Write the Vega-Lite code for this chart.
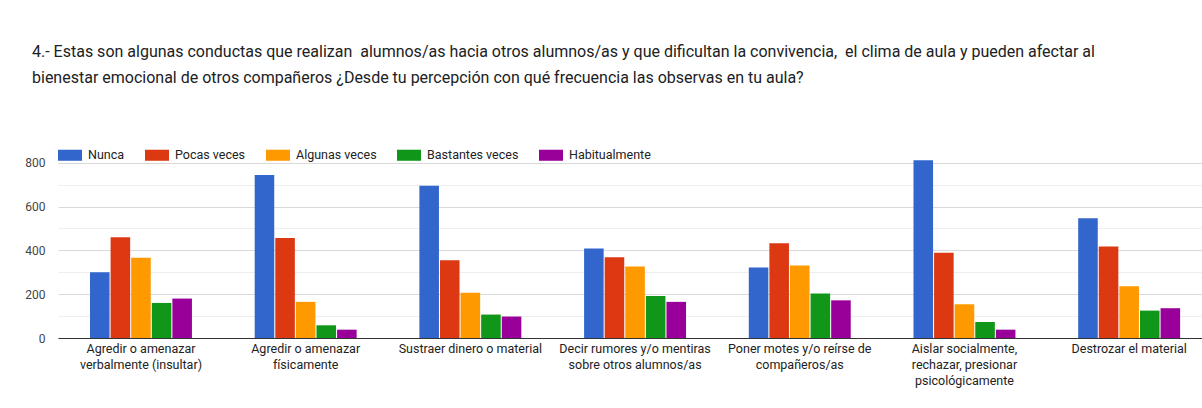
{
  "$schema": "https://vega.github.io/schema/vega-lite/v6.json",
  "autosize": {"type": "none"},
  "padding": {"left": 58, "top": 154, "right": 0, "bottom": 70},
  "width": 1144,
  "height": 184,
  "background": "white",
  "title": {
    "text": ["4.- Estas son algunas conductas que realizan \u00a0alumnos/as hacia otros alumnos/as y que dificultan la convivencia, \u00a0el clima de aula y pueden afectar al", "bienestar emocional de otros compañeros ¿Desde tu percepción con qué frecuencia las observas en tu aula?"],
    "anchor": "start",
    "frame": "group",
    "dx": -26,
    "offset": 57,
    "font": "Roboto",
    "fontSize": 16,
    "fontWeight": "normal",
    "color": "#202124",
    "lineHeight": 26
  },
  "data": {
    "values": [
      {"conducta": "Agredir o amenazar verbalmente (insultar)", "frecuencia": "Nunca", "n": 300},
      {"conducta": "Agredir o amenazar verbalmente (insultar)", "frecuencia": "Pocas veces", "n": 460},
      {"conducta": "Agredir o amenazar verbalmente (insultar)", "frecuencia": "Algunas veces", "n": 366},
      {"conducta": "Agredir o amenazar verbalmente (insultar)", "frecuencia": "Bastantes veces", "n": 160},
      {"conducta": "Agredir o amenazar verbalmente (insultar)", "frecuencia": "Habitualmente", "n": 180},
      {"conducta": "Agredir o amenazar físicamente", "frecuencia": "Nunca", "n": 744},
      {"conducta": "Agredir o amenazar físicamente", "frecuencia": "Pocas veces", "n": 457},
      {"conducta": "Agredir o amenazar físicamente", "frecuencia": "Algunas veces", "n": 165},
      {"conducta": "Agredir o amenazar físicamente", "frecuencia": "Bastantes veces", "n": 58},
      {"conducta": "Agredir o amenazar físicamente", "frecuencia": "Habitualmente", "n": 38},
      {"conducta": "Sustraer dinero o material", "frecuencia": "Nunca", "n": 695},
      {"conducta": "Sustraer dinero o material", "frecuencia": "Pocas veces", "n": 355},
      {"conducta": "Sustraer dinero o material", "frecuencia": "Algunas veces", "n": 207},
      {"conducta": "Sustraer dinero o material", "frecuencia": "Bastantes veces", "n": 107},
      {"conducta": "Sustraer dinero o material", "frecuencia": "Habitualmente", "n": 98},
      {"conducta": "Decir rumores y/o mentiras sobre otros alumnos/as", "frecuencia": "Nunca", "n": 409},
      {"conducta": "Decir rumores y/o mentiras sobre otros alumnos/as", "frecuencia": "Pocas veces", "n": 369},
      {"conducta": "Decir rumores y/o mentiras sobre otros alumnos/as", "frecuencia": "Algunas veces", "n": 326},
      {"conducta": "Decir rumores y/o mentiras sobre otros alumnos/as", "frecuencia": "Bastantes veces", "n": 192},
      {"conducta": "Decir rumores y/o mentiras sobre otros alumnos/as", "frecuencia": "Habitualmente", "n": 165},
      {"conducta": "Poner motes y/o reírse de compañeros/as", "frecuencia": "Nunca", "n": 322},
      {"conducta": "Poner motes y/o reírse de compañeros/as", "frecuencia": "Pocas veces", "n": 433},
      {"conducta": "Poner motes y/o reírse de compañeros/as", "frecuencia": "Algunas veces", "n": 331},
      {"conducta": "Poner motes y/o reírse de compañeros/as", "frecuencia": "Bastantes veces", "n": 203},
      {"conducta": "Poner motes y/o reírse de compañeros/as", "frecuencia": "Habitualmente", "n": 172},
      {"conducta": "Aislar socialmente, rechazar, presionar psicológicamente", "frecuencia": "Nunca", "n": 811},
      {"conducta": "Aislar socialmente, rechazar, presionar psicológicamente", "frecuencia": "Pocas veces", "n": 389},
      {"conducta": "Aislar socialmente, rechazar, presionar psicológicamente", "frecuencia": "Algunas veces", "n": 154},
      {"conducta": "Aislar socialmente, rechazar, presionar psicológicamente", "frecuencia": "Bastantes veces", "n": 73},
      {"conducta": "Aislar socialmente, rechazar, presionar psicológicamente", "frecuencia": "Habitualmente", "n": 38},
      {"conducta": "Destrozar el material", "frecuencia": "Nunca", "n": 547},
      {"conducta": "Destrozar el material", "frecuencia": "Pocas veces", "n": 418},
      {"conducta": "Destrozar el material", "frecuencia": "Algunas veces", "n": 236},
      {"conducta": "Destrozar el material", "frecuencia": "Bastantes veces", "n": 125},
      {"conducta": "Destrozar el material", "frecuencia": "Habitualmente", "n": 136}
    ]
  },
  "mark": {"type": "bar"},
  "encoding": {
    "x": {
      "field": "conducta",
      "type": "nominal",
      "sort": null,
      "scale": {"paddingInner": 0.381, "paddingOuter": 0.1635, "align": 0.594},
      "axis": {
        "title": null,
        "ticks": false,
        "domainColor": "#333333",
        "domainWidth": 1,
        "labelAngle": 0,
        "labelFont": "Roboto",
        "labelFontSize": 12.5,
        "labelColor": "#222222",
        "labelPadding": 4,
        "labelLineHeight": 16,
        "labelBaseline": "top",
        "labelLimit": 0,
        "labelExpr": "datum.label == 'Agredir o amenazar verbalmente (insultar)' ? ['Agredir o amenazar', 'verbalmente (insultar)'] : datum.label == 'Agredir o amenazar físicamente' ? ['Agredir o amenazar', 'físicamente'] : datum.label == 'Decir rumores y/o mentiras sobre otros alumnos/as' ? ['Decir rumores y/o mentiras', 'sobre otros alumnos/as'] : datum.label == 'Poner motes y/o reírse de compañeros/as' ? ['Poner motes y/o reírse de', 'compañeros/as'] : datum.label == 'Aislar socialmente, rechazar, presionar psicológicamente' ? ['Aislar socialmente,', 'rechazar, presionar', 'psicológicamente'] : datum.label"
      }
    },
    "xOffset": {
      "field": "frecuencia",
      "type": "nominal",
      "sort": ["Nunca", "Pocas veces", "Algunas veces", "Bastantes veces", "Habitualmente"],
      "scale": {"paddingInner": 0.05, "paddingOuter": 0}
    },
    "y": {
      "field": "n",
      "type": "quantitative",
      "scale": {"domain": [0, 840], "nice": false},
      "axis": {
        "title": null,
        "values": [0, 100, 200, 300, 400, 500, 600, 700, 800],
        "labelExpr": "datum.value % 200 === 0 ? datum.label : ''",
        "ticks": false,
        "domain": false,
        "gridColor": {"condition": {"test": "datum.value % 200 === 0", "value": "#d9d9d9"}, "value": "#eeeeee"},
        "gridWidth": 1,
        "labelFont": "Roboto",
        "labelFontSize": 12,
        "labelColor": "#444444",
        "labelPadding": 13
      }
    },
    "color": {
      "field": "frecuencia",
      "type": "nominal",
      "sort": ["Nunca", "Pocas veces", "Algunas veces", "Bastantes veces", "Habitualmente"],
      "scale": {
        "domain": ["Nunca", "Pocas veces", "Algunas veces", "Bastantes veces", "Habitualmente"],
        "range": ["#3366cc", "#dc3912", "#ff9900", "#109618", "#990099"]
      },
      "legend": {
        "title": null,
        "orient": "none",
        "legendX": 0,
        "legendY": -11,
        "direction": "horizontal",
        "columns": 5,
        "padding": 0,
        "symbolType": "M-1,-0.46L1,-0.46L1,0.46L-1,0.46Z",
        "symbolSize": 576,
        "symbolStrokeWidth": 0,
        "symbolOpacity": 1,
        "labelFont": "Roboto",
        "labelFontSize": 12.5,
        "labelColor": "#222222",
        "labelOffset": 6,
        "columnPadding": 20
      }
    }
  },
  "config": {
    "view": {"stroke": null},
    "font": "Roboto"
  }
}
